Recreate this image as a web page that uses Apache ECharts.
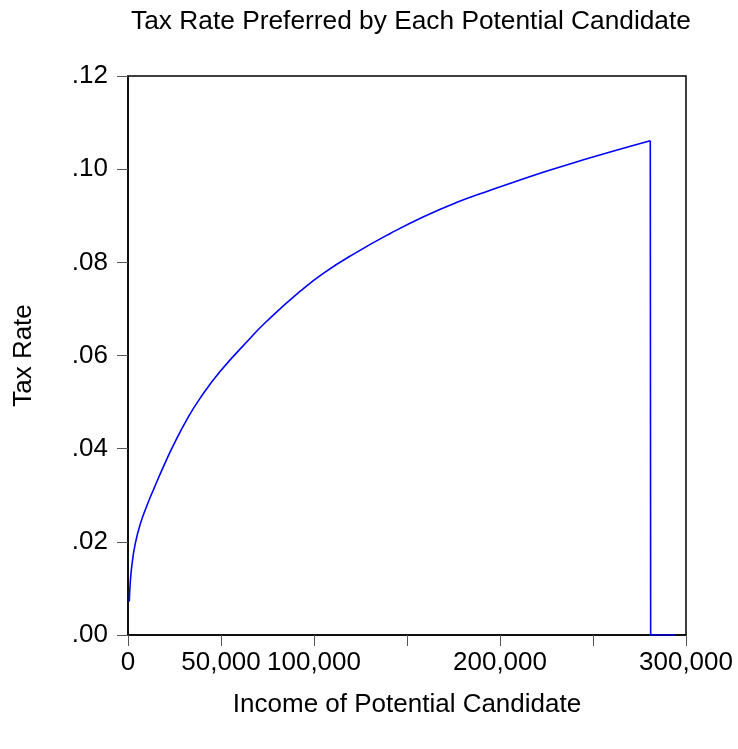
<!DOCTYPE html>
<html>
<head>
<meta charset="utf-8">
<script src="https://cdn.jsdelivr.net/npm/echarts@6/dist/echarts.min.js"></script>
<style>
  html, body { margin: 0; padding: 0; background: #fff; }
  #chart { width: 738px; height: 749px; }
</style>
</head>
<body>
<div id="chart"></div>
<script>
// Candidate income and the tax rate that candidate would choose
const incomes = [700, 1200, 2100, 3900, 6600, 10200, 13800, 19100, 24500, 31700, 38900, 49600,
  65700, 74700, 92600, 105200, 123100, 141000, 158900, 176900, 194800, 207300, 225300,
  243200, 261100, 280800, 281000, 294200];
const taxRates = [0.0072, 0.0112, 0.0150, 0.0196, 0.0238, 0.0278, 0.0313, 0.0362, 0.0408, 0.0463,
  0.0509, 0.0566, 0.0637, 0.0674, 0.0738, 0.0777, 0.0822, 0.0862, 0.0898, 0.0929, 0.0955,
  0.0972, 0.0996, 0.1018, 0.1039, 0.1061, 0.0, 0.0];

// Axis ticks and which ones carry a label
const xTicks = [0, 50000, 100000, 150000, 200000, 250000, 300000];
const xTickLabels = ['0', '50,000', '100,000', '', '200,000', '', '300,000'];
const yTicks = [0, 0.02, 0.04, 0.06, 0.08, 0.10, 0.12];
const yTickLabels = ['.00', '.02', '.04', '.06', '.08', '.10', '.12'];

const font = 'Liberation Sans, Arial, Helvetica, sans-serif';
const FS = 26;
const points = incomes.map((v, i) => [v, taxRates[i]]);
// rising part is drawn smooth; the cut-off (peak, drop, zero tail) stays straight
const peakIdx = taxRates.indexOf(Math.max(...taxRates));
const risingPart = points.slice(0, peakIdx + 1);
const cutoffPart = points.slice(peakIdx);

const lineStyle = { color: '#0000ff', width: 1.6 };

const chart = echarts.init(document.getElementById('chart'), null, { renderer: 'canvas' });
chart.setOption({
  animation: false,
  backgroundColor: '#ffffff',
  title: {
    text: 'Tax Rate Preferred by Each Potential Candidate',
    left: 406, top: 4, textAlign: 'center',
    textStyle: { fontFamily: font, fontSize: 26.3, fontWeight: 'normal', color: '#000' }
  },
  grid: {
    left: 128, right: 52, top: 76, bottom: 114,
    show: true, borderColor: '#000', borderWidth: 1.5, backgroundColor: '#fff'
  },
  xAxis: {
    type: 'value', min: 0, max: 300000, interval: 50000,
    name: 'Income of Potential Candidate', nameLocation: 'middle', nameGap: 57,
    nameTextStyle: { fontFamily: font, fontSize: FS, color: '#000' },
    axisLine: { show: true, lineStyle: { color: '#000', width: 1.5 } },
    axisTick: { show: true, length: 11, lineStyle: { color: '#555', width: 1 } },
    splitLine: { show: false },
    axisLabel: {
      fontFamily: font, fontSize: FS, color: '#000', margin: 15,
      formatter: v => { const i = xTicks.indexOf(v); return i >= 0 ? xTickLabels[i] : ''; }
    }
  },
  yAxis: {
    type: 'value', min: 0, max: 0.12, interval: 0.02,
    name: 'Tax Rate', nameLocation: 'middle', nameGap: 91, nameRotate: 90,
    nameTextStyle: { fontFamily: font, fontSize: FS, color: '#000' },
    axisLine: { show: true, lineStyle: { color: '#000', width: 1.5 } },
    axisTick: { show: true, length: 11, lineStyle: { color: '#555', width: 1 } },
    splitLine: { show: false },
    axisLabel: {
      fontFamily: font, fontSize: FS, color: '#000', margin: 20,
      formatter: v => {
        const i = yTicks.findIndex(t => Math.abs(t - v) < 1e-9);
        return i >= 0 ? yTickLabels[i] : '';
      }
    }
  },
  series: [{
    type: 'line',
    data: risingPart,
    showSymbol: false,
    smooth: 0.5,
    lineStyle: lineStyle
  }, {
    type: 'line',
    data: cutoffPart,
    showSymbol: false,
    smooth: false,
    lineStyle: lineStyle
  }]
});
</script>
</body>
</html>
